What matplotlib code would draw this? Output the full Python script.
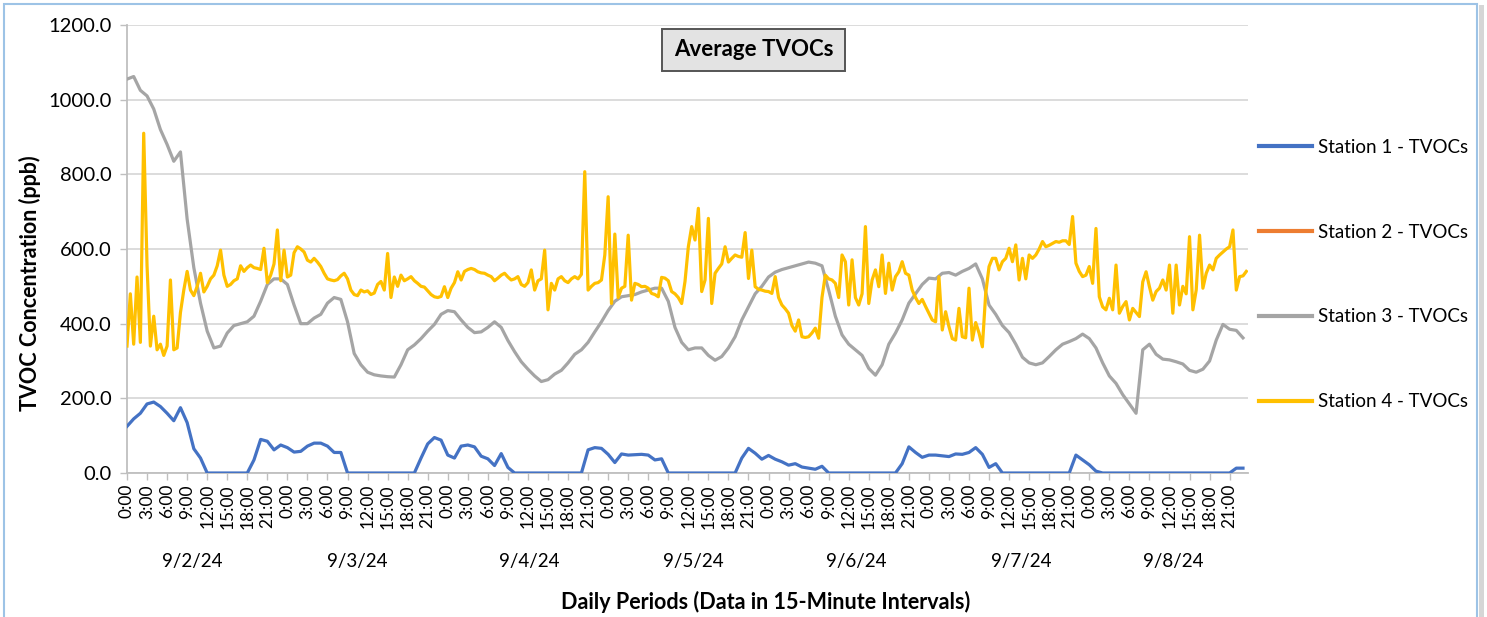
import matplotlib
matplotlib.use("Agg")
import matplotlib.pyplot as plt
from matplotlib.patches import Rectangle
import numpy as np

plt.rcParams['font.family'] = ['Lato', 'DejaVu Sans']

# ---------------- data ----------------
dates = ['9/2/24', '9/3/24', '9/4/24', '9/5/24', '9/6/24', '9/7/24', '9/8/24']
series_names = ['Station 1 - TVOCs', 'Station 2 - TVOCs',
                'Station 3 - TVOCs', 'Station 4 - TVOCs']
y_ticks = [0, 200, 400, 600, 800, 1000, 1200]

# Station 1, hourly samples (ppb)
station1 = [
    125, 145, 160, 185, 190, 178, 160, 140, 175, 135, 65, 40,
    0, 0, 0, 0, 0, 0, 0, 35, 90, 85, 62, 75,
    68, 56, 58, 72, 80, 80, 72, 55, 55,
    0, 0, 0, 0, 0, 0, 0, 0, 0, 0, 0, 40, 78, 95, 88,
    48, 40, 72, 75, 70, 45, 38, 20, 52, 15,
    0, 0, 0, 0, 0, 0, 0, 0, 0, 0, 0, 62, 68, 66,
    50, 28, 51, 48, 49, 50, 48, 35, 38,
    0, 0, 0, 0, 0, 0, 0, 0, 0, 0, 0, 40, 66, 53, 37,
    47, 37, 30, 21, 25, 16, 13, 10, 18,
    0, 0, 0, 0, 0, 0, 0, 0, 0, 0, 0, 25, 70, 55, 42,
    48, 48, 46, 44, 51, 50, 55, 68, 50, 15, 25,
    0, 0, 0, 0, 0, 0, 0, 0, 0, 0, 0, 48, 35,
    22, 5, 0, 0, 0, 0, 0, 0, 0, 0, 0, 0, 0, 0, 0, 0, 0, 0, 0, 0, 0, 0, 13, 13,
]

# Station 2 reported no values
station2 = []

# Station 3, hourly samples (ppb)
station3 = [
    1055, 1062, 1025, 1010, 975, 920, 880, 835, 860, 680, 550, 455,
    380, 335, 340, 375, 395, 400, 405, 420, 460, 505, 520, 520,
    505, 450, 400, 400, 415, 425, 455, 470, 465, 405, 320, 290,
    270, 263, 260, 258, 257, 290, 330, 343, 360, 380, 398, 425,
    435, 432, 410, 390, 376, 378, 390, 405, 390, 355, 325, 298,
    278, 260, 245, 250, 265, 275, 295, 318, 330, 350, 378, 405,
    435, 460, 472, 475, 478, 485, 490, 495, 495, 460, 390, 350,
    330, 335, 335, 315, 302, 312, 335, 365, 410, 445, 480, 500,
    525, 538, 545, 550, 555, 560, 565, 562, 555, 490, 420, 370,
    345, 330, 315, 280, 262, 290, 345, 375, 410, 455, 480, 505,
    522, 520, 535, 537, 530, 540, 548, 560, 520, 450, 425, 395,
    376, 345, 310, 295, 290, 295, 312, 330, 345, 352, 360, 372,
    360, 335, 295, 260, 240, 210, 185, 160, 330, 345, 318, 305,
    303, 298, 292, 275, 270, 278, 300, 356, 398, 385, 382, 362,
]

# Station 4, half-hourly samples (ppb)
station4 = [
    # 9/2
    340, 480, 345, 525, 350, 910, 555, 340, 420, 330, 345, 315,
    340, 517, 330, 335, 430, 490, 540, 490, 475, 500, 535, 485,
    500, 520, 530, 555, 597, 530, 500, 505, 515, 520, 555, 540,
    550, 557, 550, 548, 545, 602, 510, 530, 560, 651, 515, 597,
    # 9/3
    525, 530, 590, 606, 600, 592, 570, 565, 575, 565, 553, 535,
    520, 517, 515, 518, 528, 535, 520, 490, 478, 475, 490, 485,
    488, 478, 482, 505, 513, 490, 588, 470, 525, 500, 530, 515,
    520, 526, 515, 508, 500, 498, 488, 478, 472, 470, 473, 499,
    # 9/4
    470, 495, 510, 539, 517, 540, 545, 548, 545, 539, 536, 535,
    530, 526, 515, 522, 530, 535, 525, 517, 520, 526, 505, 500,
    510, 544, 490, 515, 520, 597, 437, 508, 490, 520, 526, 515,
    510, 520, 526, 520, 532, 807, 490, 500, 508, 510, 517, 584,
    # 9/5
    740, 454, 640, 470, 495, 500, 637, 463, 508, 505, 499, 500,
    495, 481, 478, 472, 524, 522, 515, 486, 480, 470, 454, 513,
    606, 660, 624, 709, 486, 517, 682, 454, 535, 548, 560, 606,
    565, 575, 584, 580, 578, 644, 521, 597, 499, 492, 490, 487,
    # 9/6
    486, 481, 526, 470, 450, 440, 428, 395, 380, 410, 365, 363,
    365, 375, 388, 361, 470, 530, 520, 517, 508, 470, 584, 566,
    450, 571, 470, 450, 480, 660, 454, 517, 544, 499, 584, 481,
    562, 490, 526, 539, 566, 535, 530, 490, 470, 454, 465, 446,
    # 9/7
    428, 410, 405, 526, 383, 432, 392, 360, 356, 441, 365, 362,
    495, 356, 403, 375, 338, 481, 553, 575, 575, 544, 566, 575,
    602, 566, 611, 517, 575, 520, 584, 575, 584, 600, 620, 606,
    610, 615, 620, 618, 622, 622, 612, 687, 562, 540, 526, 530,
    # 9/8
    553, 508, 655, 472, 445, 437, 468, 437, 557, 428, 446, 459,
    410, 441, 430, 419, 512, 539, 499, 463, 486, 495, 517, 490,
    557, 428, 557, 450, 500, 480, 633, 437, 490, 637, 495, 535,
    557, 544, 575, 584, 592, 600, 606, 651, 490, 526, 528, 540,
]

# ---------------- styling / layout ----------------
colors = ['#4472C4', '#ED7D31', '#A5A5A5', '#FFC000']
grid_c = '#D9D9D9'
axis_c = '#BFBFBF'
text_c = '#000000'
# horizontal position (hour within the day) of each date group label
date_label_hour = [9.7, 10.5, 12.2, 12.7, 13.2, 13.8, 12.5]

W, H = 1487, 617
fig = plt.figure(figsize=(W / 100, H / 100), dpi=100)
fig.patch.set_facecolor('white')

L, R, T, B = 127, 1248, 25, 473
ax = fig.add_axes([L / W, 1 - B / H, (R - L) / W, (B - T) / H])

n_days = len(dates)
t_hourly = np.arange(len(station1)) * 1.0
t_half = np.arange(len(station4)) * 0.5
t_end = n_days * 24 - 0.25

lw = 2.3
ax.plot(t_hourly, station1, color=colors[0], lw=lw, label=series_names[0],
        solid_joinstyle='round', zorder=3)
ax.plot([], [], color=colors[1], lw=lw, label=series_names[1])
ax.plot(np.arange(len(station3)) * 1.0, station3, color=colors[2], lw=lw,
        label=series_names[2], solid_joinstyle='round', zorder=4)
ax.plot(t_half, station4, color=colors[3], lw=lw, label=series_names[3],
        solid_joinstyle='round', zorder=5)

ax.set_xlim(0, t_end)
ax.set_ylim(0, 1200)
ax.set_yticks(y_ticks)
ax.set_yticklabels([f'{v:.1f}' for v in y_ticks], fontsize=14.5, color=text_c)
ax.yaxis.grid(True, color=grid_c, lw=1.3, zorder=0)
ax.set_axisbelow(True)

xt = np.arange(0, n_days * 24, 3)
ax.set_xticks(xt)
ax.set_xticklabels([f'{int(h) % 24}:00' for h in xt], rotation=90,
                   fontsize=12.5, color=text_c, va='top', ha='center')

for s in ['top', 'right']:
    ax.spines[s].set_visible(False)
for s in ['left', 'bottom']:
    ax.spines[s].set_color(axis_c)
    ax.spines[s].set_linewidth(1.3)
ax.tick_params(axis='y', length=5, width=1, color=axis_c, pad=6)
ax.tick_params(axis='x', length=5, width=1, color=axis_c, pad=3)

# date group labels
for i, d in enumerate(dates):
    ax.text(i * 24 + date_label_hour[i], -0.197, d,
            transform=ax.get_xaxis_transform(),
            ha='center', va='center', fontsize=13.5, color=text_c)

fig.text(30 / W, 1 - 283 / H, 'TVOC Concentration (ppb)', rotation=90,
         ha='center', va='center', fontsize=15.5, fontweight='bold')
fig.text(766 / W, 1 - 602 / H, 'Daily Periods (Data in 15-Minute Intervals)',
         ha='center', va='center', fontsize=15.5, fontweight='bold')

# title box
fig.add_artist(Rectangle((662 / W, 1 - 71 / H), 183 / W, 42 / H,
                         transform=fig.transFigure, facecolor='#E3E3E3',
                         edgecolor='#555555', lw=1.4, zorder=10))
fig.text(753.5 / W, 1 - 50 / H, 'Average TVOCs', ha='center', va='center',
         fontsize=16, fontweight='bold', zorder=11)

# legend
leg = fig.legend(loc='upper left', bbox_to_anchor=(1259 / W, 1 - 139 / H),
                 frameon=False, fontsize=13.5, handlelength=2.83,
                 handletextpad=0.3, labelspacing=3.61, borderpad=0,
                 borderaxespad=0)
for line in leg.get_lines():
    line.set_linewidth(3)

# outer chart border
fig.add_artist(Rectangle((1479 / W, 0), 5 / W, 1 - 5 / H,
                         transform=fig.transFigure, facecolor='#D6D6D6',
                         edgecolor='none', zorder=0))
fig.add_artist(Rectangle((4 / W, -0.05), 1473 / W, 1.05 - 3.5 / H,
                         transform=fig.transFigure, facecolor='none',
                         edgecolor='#9DC3E6', lw=1.5, zorder=1))

fig.savefig('out.png', dpi=100, facecolor='white')
